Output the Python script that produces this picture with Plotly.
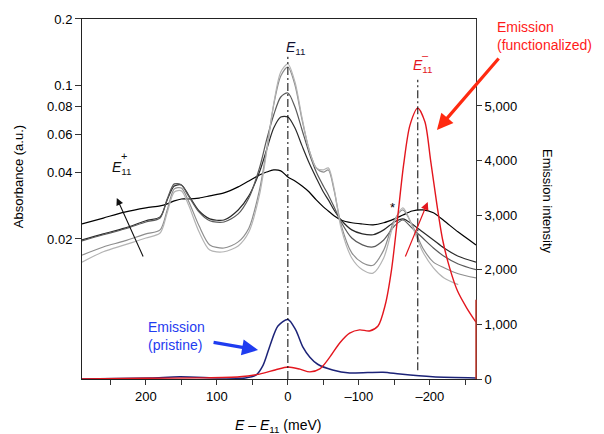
import plotly.graph_objects as go

# ---------------- data ----------------
abs_energy = [290, 260, 230, 200, 180, 170, 160, 150, 140, 125, 110, 90, 70, 55, 40, 30, 20, 10, 0,
              -10, -20, -30, -40, -50, -57, -65, -75, -90, -105, -120, -135, -150, -162, -175, -190,
              -205, -220, -240, -265]
abs_a = [0.0234, 0.0249, 0.0265, 0.0277, 0.0283, 0.0289, 0.0298, 0.0304, 0.0304, 0.0307, 0.0314, 0.0324,
         0.0345, 0.0367, 0.0391, 0.0403, 0.0412, 0.0408, 0.0383, 0.0367, 0.0348, 0.0327, 0.0301, 0.0280,
         0.0268, 0.0255, 0.0244, 0.0237, 0.0234, 0.0232, 0.0237, 0.0247, 0.0257, 0.0268, 0.0271, 0.0263,
         0.0242, 0.0215, 0.0188]
abs_b = [0.0198, 0.0211, 0.0224, 0.0242, 0.0252, 0.0301, 0.0348, 0.0352, 0.0317, 0.0268, 0.0247, 0.0244,
         0.0271, 0.0314, 0.0403, 0.0508, 0.0639, 0.0717, 0.0717, 0.0639, 0.0530, 0.0443, 0.0379, 0.0327,
         0.0301, 0.0271, 0.0244, 0.0220, 0.0211, 0.0209, 0.0220, 0.0239, 0.0247, 0.0234, 0.0215, 0.0198,
         0.0182, 0.0167, 0.0157]
abs_c = [0.0196, 0.0209, 0.0222, 0.0239, 0.0249, 0.0304, 0.0356, 0.0352, 0.0314, 0.0265, 0.0242, 0.0239,
         0.0260, 0.0307, 0.0421, 0.0564, 0.0732, 0.0884, 0.0922, 0.0796, 0.0626, 0.0492, 0.0403, 0.0348,
         0.0317, 0.0280, 0.0239, 0.0202, 0.0188, 0.0184, 0.0198, 0.0229, 0.0244, 0.0224, 0.0202, 0.0182,
         0.0167, 0.0154, 0.0145]
abs_d = [0.0169, 0.0184, 0.0196, 0.0211, 0.0220, 0.0271, 0.0338, 0.0341, 0.0298, 0.0229, 0.0188, 0.0182,
         0.0194, 0.0224, 0.0334, 0.0508, 0.0813, 0.1102, 0.1210, 0.1002, 0.0695, 0.0508, 0.0421, 0.0403,
         0.0412, 0.0334, 0.0232, 0.0173, 0.0156, 0.0152, 0.0178, 0.0244, 0.0271, 0.0232, 0.0182, 0.0157,
         0.0148, 0.0139, 0.0133]
abs_e = [0.0157, 0.0175, 0.0188, 0.0202, 0.0213, 0.0263, 0.0327, 0.0331, 0.0286, 0.0215, 0.0178, 0.0175,
         0.0186, 0.0215, 0.0317, 0.0497, 0.0822, 0.1149, 0.1249, 0.1034, 0.0710, 0.0508, 0.0421, 0.0412,
         0.0421, 0.0341, 0.0224, 0.0164, 0.0145, 0.0140, 0.0164, 0.0239, 0.0277, 0.0229, 0.0175, 0.0148,
         0.0133, 0.0124, None]
abs_colors = ["#000000", "#2a2a2a", "#5a5a5a", "#8e8e8e", "#b4b4b4"]

red_energy = [290, 200, 125, 68, 40, 18, 0, -17, -31, -45, -59, -73, -87, -101, -115, -127, -137, -146,
              -155, -163, -172, -183, -193, -201, -210, -218, -228, -239, -252, -265]
red_int = [0, 15, 20, 40, 90, 165, 220, 180, 130, 185, 400, 660, 840, 900, 880, 970, 1350, 2000,
           3000, 3920, 4650, 4960, 4710, 4010, 3190, 2550, 2030, 1610, 1300, 1040]

blue_energy = [290, 194, 152, 96, 60, 45, 35, 25, 14, 0, -11, -21, -31, -42, -63, -87, -134, -158, -204, -265]
blue_int = [0, 20, 40, 20, 20, 70, 250, 620, 970, 1090, 900, 590, 400, 270, 165, 110, 125, 90, 40, 20]

peak_positions = [0, -183]   # E11 and E11- (meV)

abs_ticks = [0.02, 0.04, 0.06, 0.08, 0.1, 0.2]
abs_ticktext = ["0.02", "0.04", "0.06", "0.08", "0.1", "0.2"]
x_ticks = [200, 100, 0, -100, -200]
x_ticktext = ["200", "100", "0", "\u2013100", "\u2013200"]
em_ticks = [0, 1000, 2000, 3000, 4000, 5000]

FONT = "Arial, Liberation Sans, Helvetica, sans-serif"

fig = go.Figure()
for ys, col in zip([abs_a, abs_b, abs_c, abs_d, abs_e], abs_colors):
    fig.add_trace(go.Scatter(x=abs_energy, y=ys, mode="lines", yaxis="y",
                             line=dict(color=col, width=1.2, shape="spline", smoothing=0.8),
                             showlegend=False, hoverinfo="skip"))
fig.add_trace(go.Scatter(x=blue_energy, y=blue_int, mode="lines", yaxis="y2",
                         line=dict(color="#1c2378", width=1.5, shape="spline", smoothing=0.8),
                         showlegend=False, hoverinfo="skip"))
fig.add_trace(go.Scatter(x=red_energy, y=red_int, mode="lines", yaxis="y2",
                         line=dict(color="#e3161e", width=1.4, shape="spline", smoothing=0.8),
                         showlegend=False, hoverinfo="skip"))

shapes = [
    dict(type="line", xref="x", yref="y2", x0=peak_positions[0], x1=peak_positions[0], y0=0, y1=5900,
         line=dict(color="black", width=1, dash="8px,3px,2px,3px")),
    dict(type="line", xref="x", yref="y2", x0=peak_positions[1], x1=peak_positions[1], y0=160, y1=5480,
         line=dict(color="black", width=1, dash="8px,3px,2px,3px")),
    # red lower part of the right spine
    dict(type="line", xref="paper", yref="paper", x0=1, x1=1, y0=0, y1=0.22,
         line=dict(color="#c0392b", width=1.5)),
]

ann = []
def txt(x, y, text, size=14, color="black", xanchor="center", yanchor="middle", xref="x", yref="y2",
        angle=0, align="center"):
    ann.append(dict(x=x, y=y, xref=xref, yref=yref, text=text, showarrow=False, textangle=angle,
                    font=dict(family=FONT, size=size, color=color), xanchor=xanchor, yanchor=yanchor,
                    align=align))

def arrow(x, y, ax, ay, color, width, size=1.0, head=2):
    ann.append(dict(x=x, y=y, xref="x", yref="y2", ax=ax, ay=ay, text="", showarrow=True,
                    arrowhead=head, arrowsize=size, arrowwidth=width, arrowcolor=color))

# peak labels
txt(peak_positions[0] + 5, 6060, "<i>E</i><sub>11</sub>", size=14, color="#111133", xanchor="left")
txt(peak_positions[1] + 10, 5730, "<i>E</i><sub>11</sub>", size=14, color="#e3161e", xanchor="left")
txt(-194, 5930, "\u2013", size=11, color="#e3161e")
txt(251, 3860, "<i>E</i><sub>11</sub>", size=14, color="#111111", xanchor="left")
txt(231, 4090, "+", size=11, color="#111111")
txt(-148, 3150, "*", size=13, color="black")

# emission text labels
txt(200, 790, "Emission<br>(pristine)", size=14, color="#1f3cf0", xanchor="left", align="left")
txt((495 - 82) / 394, 1.005, "Emission<br>(functionalized)", size=14, color="#ff1a1a",
    xanchor="left", yanchor="top", xref="paper", yref="paper", align="left")

# arrows
arrow(-210, 4560, 63, -73, "#ff2a10", 3.2, size=1.0)
arrow(42, 530, -46, -8, "#1f3cf0", 3.2, size=1.0)
arrow(241, 3315, 27, 60, "#111111", 1.1, size=1.3)
arrow(-197, 3240, -23, 56, "#e3161e", 1.2, size=1.3)

# axis titles
txt(-0.162, 0.561, "Absorbance (a.u.)", size=13, xref="paper", yref="paper", angle=-90)
txt(1.180, 0.492, "Emission intensity", size=13, xref="paper", yref="paper", angle=90)
txt(0.497, -0.131, "<i>E</i> \u2013 <i>E</i><sub>11</sub> (meV)", size=14, xref="paper", yref="paper")

fig.update_layout(
    width=604, height=434,
    margin=dict(l=82, r=128, t=19, b=55),
    paper_bgcolor="white", plot_bgcolor="white",
    font=dict(family=FONT, size=13, color="black"),
    shapes=shapes, annotations=ann,
    xaxis=dict(range=[290, -265], tickvals=x_ticks, ticktext=x_ticktext, ticks="outside", ticklen=5,
               tickcolor="#333", showline=True, linecolor="#222", linewidth=1, mirror=True,
               showgrid=False, zeroline=False, tickfont=dict(size=13),
               minor=dict(tickvals=[250, 150, 50, -50, -150, -250], ticks="outside", ticklen=5,
                          tickcolor="#333", showgrid=False)),
    yaxis=dict(type="log", range=[-2.3354, -0.699], tickvals=abs_ticks, ticktext=abs_ticktext,
               ticks="outside", ticklen=6, tickcolor="#333", showline=True, linecolor="#222",
               linewidth=1, showgrid=False, zeroline=False, tickfont=dict(size=13)),
    yaxis2=dict(overlaying="y", side="right", range=[0, 6593], tickvals=em_ticks, tickformat=",d",
                ticks="outside", ticklen=5, tickcolor="#333", showline=True, linecolor="#333",
                linewidth=1, showgrid=False, zeroline=False, tickfont=dict(size=13)),
)

fig.write_html("out.html")
